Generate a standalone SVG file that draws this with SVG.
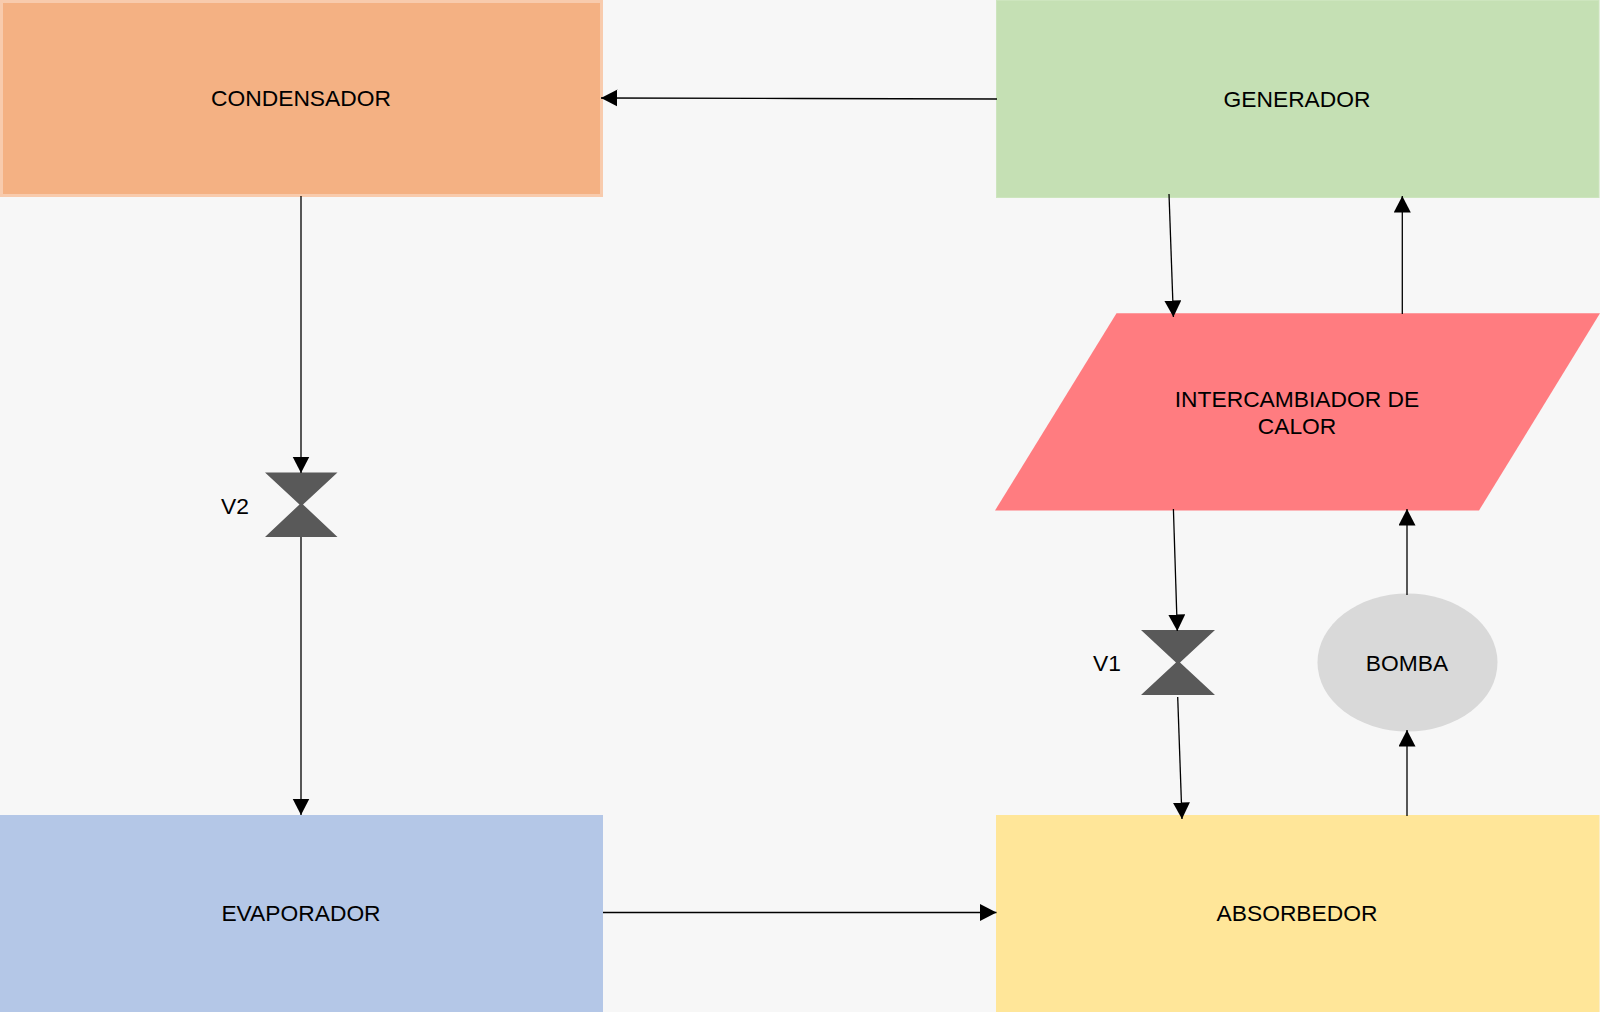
<svg xmlns="http://www.w3.org/2000/svg" width="1600" height="1012" viewBox="0 0 1600 1012">
<style>
text{font-family:"Liberation Sans",Arial,sans-serif;font-size:22.8px;fill:#000;text-anchor:middle;dominant-baseline:central}
.c{fill:none;stroke:#000;stroke-width:1.3;marker-end:url(#a)}
.v{fill:#595959}
</style>
<defs><marker id="a" markerUnits="userSpaceOnUse" markerWidth="18" markerHeight="18" refX="16.5" refY="8.5" orient="auto"><path d="M0 0L16.5 8.5L0 17Z" fill="#000"/></marker></defs>
<rect width="1600" height="1012" fill="#f7f7f7"/>
<g id="condensador"><rect x="1.5" y="1.5" width="600" height="194" fill="#f4b183" stroke="#f8cbad" stroke-width="3"/><text x="301" y="98">CONDENSADOR</text></g>
<g id="generador"><rect x="996.5" y="0.5" width="602.5" height="197" fill="#c5e0b4" stroke="#cde5be" stroke-width="1"/><text x="1297" y="98.5">GENERADOR</text></g>
<g id="intercambiador"><polygon points="1116.5,313.3 1600,313.3 1479,510.5 995,510.5" fill="#ff7c80"/><text x="1297" y="398.5">INTERCAMBIADOR DE</text><text x="1297" y="426">CALOR</text></g>
<g id="v2"><polygon class="v" points="265,472.5 337.5,472.5 303,504.5 337.5,537 265,537 299.5,504.5"/><text x="235" y="505.5">V2</text></g>
<g id="v1"><polygon class="v" points="1141,630 1215,630 1180,662.5 1215,695 1141,695 1176,662.5"/><text x="1107" y="662.5">V1</text></g>
<g id="bomba"><ellipse cx="1407.5" cy="662.5" rx="90" ry="69" fill="#d9d9d9"/><text x="1407" y="662.5">BOMBA</text></g>
<g id="evaporador"><rect x="0" y="815" width="603" height="197" fill="#b4c7e7"/><text x="301" y="912.5">EVAPORADOR</text></g>
<g id="absorbedor"><rect x="996" y="815" width="603.5" height="197" fill="#ffe699"/><text x="1297" y="912.5">ABSORBEDOR</text></g>
<g id="connectors">
<path class="c" d="M997 99L801 98.5L601 98"/>
<path class="c" d="M301 196V473"/>
<path class="c" d="M301 537V815"/>
<path class="c" d="M603 912.5H996.5"/>
<path class="c" d="M1169 194L1173.4 317"/>
<path class="c" d="M1402.3 314V196"/>
<path class="c" d="M1173.4 509L1177.3 631"/>
<path class="c" d="M1177.7 697L1182 819"/>
<path class="c" d="M1407 816V730"/>
<path class="c" d="M1407 595V509"/>
</g>
</svg>
